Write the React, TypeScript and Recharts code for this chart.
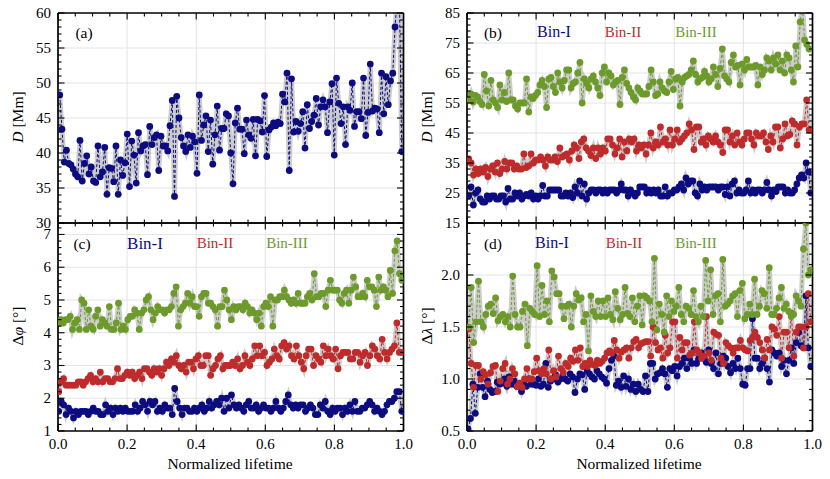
import React from 'react';
import { ComposedChart, Line, XAxis, YAxis, CartesianGrid } from 'recharts';

const NAVY = '#0c0c80';
const RED = '#bf2b2b';
const GREEN = '#6c9a2b';
const BAND = '#9a9a9a';
const FONT = "'Liberation Serif', 'DejaVu Serif', serif";

const range = (a: number, b: number, s: number) => {
  const out: number[] = [];
  for (let v = a; v <= b + 1e-9; v += s) out.push(+v.toFixed(4));
  return out;
};

// shared x axis
const xMajor = [0, 0.2, 0.4, 0.6, 0.8, 1.0];
const xTicks = range(0, 1, 0.05);
const xGrid = [0.2, 0.4, 0.6, 0.8];
const seriesNames = ['Bin-I', 'Bin-II', 'Bin-III'];

// (a) D [Mm]
const aD = [48.3, 43.4, 38.7, 40.4, 38.5, 38.3, 37.7, 37.0, 36.6, 41.8,
  36.0, 38.5, 39.6, 37.0, 38.0, 36.0, 35.8, 41.0, 36.6, 37.3,
  40.8, 34.1, 37.9, 37.8, 35.9, 41.0, 34.1, 39.0, 36.8, 38.6,
  42.7, 35.2, 41.7, 39.7, 35.7, 42.9, 40.3, 41.0, 41.2, 36.9,
  43.8, 41.2, 42.2, 42.6, 37.5, 42.4, 41.0, 41.0, 40.3, 43.9,
  47.5, 33.8, 48.1, 45.0, 42.2, 41.0, 40.2, 42.6, 40.8, 42.4,
  41.6, 37.1, 48.3, 41.8, 44.0, 45.3, 40.2, 44.7, 38.4, 42.6,
  46.7, 40.4, 43.5, 43.5, 45.6, 45.3, 40.0, 35.6, 44.3, 46.4,
  43.4, 43.4, 39.9, 44.7, 42.6, 42.1, 44.8, 39.6, 44.8, 44.6,
  43.0, 48.2, 39.5, 43.3, 43.7, 44.3, 43.9, 44.4, 44.2, 48.4,
  47.3, 51.4, 37.5, 50.6, 43.0, 44.5, 43.1, 44.2, 45.9, 40.7,
  46.9, 43.5, 44.5, 45.4, 47.8, 44.0, 46.6, 47.6, 46.6, 42.9,
  47.3, 49.9, 39.7, 50.7, 47.1, 44.2, 46.6, 41.2, 46.6, 46.1,
  50.0, 43.8, 45.9, 45.9, 44.9, 50.7, 42.5, 45.8, 52.7, 46.0,
  46.4, 46.3, 42.9, 51.4, 45.6, 50.9, 46.9, 50.3, 51.4, 58.0,
  62.0, 61.0, 40.2];
const aYTicks = range(30, 60, 1);
const aYMajor = [30, 35, 40, 45, 50, 55, 60];

// (b) D [Mm] per bin
const bBin1 = [24, 27, 21, 25, 26, 23, 22, 22, 24, 23, 24, 24, 23, 23, 24, 24, 22, 26.5, 23, 23,
  25, 24, 25, 23, 24, 24.5, 24, 25, 23, 24, 23, 24, 27.5, 24, 24, 26, 26, 26, 26, 26,
  24, 24, 25, 24, 25, 23.5, 27, 25, 29, 24, 28, 23, 25, 26, 26, 25, 26, 26, 25, 26,
  25, 26, 26, 26, 25, 26, 28, 26, 26, 24, 26, 25, 24, 25, 27, 27, 27, 25, 26, 25,
  26, 25, 26, 24, 24, 27, 24, 25, 25, 26, 26, 27, 28, 26, 30, 28, 29, 29, 25, 24,
  28, 26, 27, 26, 27, 27, 27, 27, 26, 27, 27, 24.5, 27, 24, 28, 29, 25, 26, 25, 25,
  26, 29, 25, 26, 25, 26, 26, 25, 26, 28.5, 26, 24, 26, 25.5, 27, 27, 27, 25, 26, 25,
  25, 26, 28, 30, 31, 30, 35, 32, 25];
const bBin2 = [36.4, 35, 31, 33, 31.5, 33, 32, 33.5, 30.5, 33, 34, 32, 35, 31.5, 33, 35.5, 33, 35, 35, 33,
  34, 33, 33, 38, 33.5, 34, 38, 35, 36, 36, 37, 36, 34, 37, 36, 36, 37, 35.5, 40, 37,
  37.5, 38, 36, 39, 41, 40, 36.5, 42, 43, 40, 39, 37.5, 40, 36.5, 40, 38, 40, 39, 43, 43,
  41, 38, 40, 43, 37, 42, 39, 43, 42, 43, 39, 41, 40, 41, 38, 41, 45, 40, 42, 41,
  47, 42, 43, 41, 46, 41, 43, 46, 42, 43, 44, 45, 48, 46, 39.5, 47, 47, 42, 43, 41,
  44, 43, 42, 44, 42, 41, 38.5, 46, 46, 42, 44, 41, 45, 42, 41, 43, 45, 45, 43, 41,
  45, 44, 44, 45, 42, 39.5, 44, 42, 47, 47, 40, 43, 48, 44, 44.5, 49, 48, 41, 47, 48,
  48, 56, 46];
const bBin3 = [56, 58, 55.3, 57.5, 57, 55.5, 54.5, 64.5, 59, 54, 62.5, 56, 55, 53.5, 61, 56, 58.5, 55.5, 65, 56,
  56, 54, 53, 55, 55, 55, 63, 52, 57, 56.5, 57.5, 58.5, 61, 62.5, 60.5, 53.5, 63, 63.5, 60.5, 58.5,
  65, 62, 60, 62.5, 66, 66, 60, 61.5, 62, 65, 68.5, 55, 63, 61.5, 60, 63, 64, 62, 60, 57.5,
  65, 67, 62, 65, 64, 61, 62, 62.5, 54.5, 63.5, 66, 61.5, 60, 58.5, 57, 56, 60, 59, 58, 58,
  58, 60.5, 66, 62, 57.5, 58, 62, 60, 59, 58.5, 62, 65.5, 59.5, 63, 63.5, 54, 62, 63.5, 64, 64.5,
  66, 69, 64.5, 62, 63, 63.5, 65.5, 64, 62, 63, 67, 64.5, 60.5, 66.5, 73, 64, 63, 62, 68.5, 71,
  67, 67.5, 61, 68, 66, 69.5, 67, 67, 67, 67.5, 61, 67, 64.5, 66, 70, 69, 66, 70, 68, 71,
  66, 69, 65, 71, 70, 66, 62, 74, 67, 82, 88, 76, 74.5, 73];
const bYTicks = range(15, 85, 2);
const bYMajor = [15, 25, 35, 45, 55, 65, 75, 85];

// (c) delta phi [deg]
const cBin1 = [1.6, 1.9, 1.8, 1.5, 1.7, 1.6, 1.4, 1.6, 1.5, 1.6, 1.6, 1.6, 1.5, 1.6, 1.7, 1.6, 1.6, 1.5, 1.5, 1.8,
  1.6, 1.7, 1.5, 1.7, 1.6, 1.7, 1.6, 1.7, 1.6, 1.6, 1.6, 1.8, 1.6, 1.7, 1.9, 1.8, 1.6, 1.9, 1.8, 1.9,
  1.6, 1.7, 1.6, 1.8, 1.7, 1.7, 1.5, 2.3, 1.9, 1.7, 1.5, 1.7, 1.7, 1.6, 1.6, 1.7, 1.6, 1.7, 1.8, 1.6,
  1.7, 1.9, 1.7, 1.8, 1.9, 1.8, 2.0, 1.6, 2.0, 1.7, 2.1, 1.8, 1.7, 1.8, 1.7, 1.6, 1.8, 1.9, 1.7, 1.7,
  1.8, 1.6, 1.7, 1.8, 1.7, 1.7, 1.6, 1.7, 1.9, 1.7, 1.6, 1.7, 1.9, 2.1, 1.8, 1.7, 1.8, 1.7, 1.8, 1.8,
  1.6, 1.7, 1.8, 1.7, 1.5, 1.5, 1.8, 1.7, 1.9, 1.6, 1.5, 1.7, 1.6, 1.7, 1.7, 1.5, 1.7, 1.6, 1.8, 1.6,
  1.9, 1.6, 1.6, 1.7, 1.7, 1.8, 1.9, 1.8, 1.6, 1.7, 1.6, 1.5, 1.6, 1.8, 1.9, 1.9, 2.0, 2.2, 2.2, 1.6];
const cBin2 = [2.2, 2.5, 2.6, 2.4, 2.4, 2.4, 2.4, 2.4, 2.5, 2.5, 2.4, 2.5, 2.6, 2.7, 2.5, 2.6, 2.5, 2.8, 2.5, 2.6,
  2.6, 2.5, 2.5, 2.6, 2.9, 2.6, 2.6, 2.7, 2.8, 2.7, 2.8, 2.6, 2.7, 2.8, 2.6, 2.9, 2.9, 2.8, 2.7, 2.9,
  2.8, 2.9, 2.7, 2.9, 3.1, 3.0, 3.2, 3.1, 3.3, 3.0, 2.9, 3.0, 2.8, 3.1, 3.1, 2.9, 3.2, 3.3, 3.0, 3.0,
  3.3, 3.3, 2.7, 2.9, 3.0, 3.2, 3.3, 2.9, 3.0, 3.0, 3.0, 3.1, 3.0, 3.2, 2.9, 3.0, 3.3, 3.1, 3.0, 3.2,
  3.6, 3.3, 3.6, 3.3, 3.4, 3.0, 3.1, 3.2, 3.5, 3.3, 3.2, 3.6, 3.7, 3.5, 3.6, 3.3, 3.2, 3.6, 3.3, 3.1,
  2.9, 3.3, 3.5, 3.5, 3.0, 3.3, 3.2, 3.1, 3.6, 3.3, 3.5, 3.3, 3.2, 3.5, 2.9, 3.3, 3.4, 3.4, 3.4, 3.2,
  3.2, 3.4, 3.4, 3.1, 3.3, 3.4, 3.0, 3.3, 3.6, 3.5, 3.3, 3.2, 3.8, 3.4, 3.2, 3.4, 3.5, 3.6, 4.3, 3.4, 3.4];
const cBin3 = [4.3, 4.4, 4.3, 4.4, 4.4, 4.5, 4.1, 4.3, 4.4, 4.1, 5.0, 4.9, 4.1, 4.7, 4.2, 4.1, 4.5, 4.7, 4.2, 4.4,
  4.3, 4.2, 4.8, 4.1, 4.1, 4.3, 4.9, 4.1, 4.2, 4.1, 4.4, 4.5, 4.5, 4.7, 4.6, 4.1, 4.6, 4.7, 5.0, 5.1,
  4.7, 4.4, 4.6, 4.8, 4.7, 4.7, 4.6, 4.7, 4.7, 4.8, 5.2, 5.4, 4.2, 4.7, 4.8, 4.9, 5.2, 4.9, 5.1, 4.8,
  4.8, 4.5, 5.1, 5.2, 5.2, 4.9, 4.9, 4.8, 4.7, 4.2, 4.8, 4.8, 5.3, 5.0, 4.7, 4.4, 4.8, 4.7, 4.8, 4.8,
  4.7, 4.9, 4.8, 4.6, 4.7, 4.6, 4.4, 4.6, 4.2, 4.8, 4.9, 4.8, 5.1, 4.2, 5.0, 5.0, 5.1, 5.1, 5.3, 5.1,
  5.0, 4.9, 5.0, 4.9, 5.2, 4.9, 4.9, 4.9, 5.1, 5.2, 5.0, 5.8, 5.1, 5.1, 5.2, 5.2, 4.8, 5.3, 5.6, 5.3,
  5.3, 5.3, 5.0, 4.9, 5.2, 5.3, 4.9, 5.3, 5.7, 5.4, 5.1, 5.1, 5.2, 5.1, 5.6, 5.4, 5.4, 5.3, 4.8, 5.7,
  5.3, 5.4, 5.3, 5.1, 5.9, 5.2, 6.5, 6.8, 5.8, 5.6];
const cYTicks = range(1, 7.2, 0.2);
const cYMajor = [1, 2, 3, 4, 5, 6, 7];

// (d) delta lambda [deg]
const dBin1 = [0.52, 0.62, 0.95, 0.67, 0.92, 1.05, 0.92, 0.83, 0.98, 0.9, 0.87, 0.88, 0.97, 0.95, 0.96, 1.0, 0.93, 1.02, 0.95, 0.98,
  0.93, 0.95, 0.88, 0.95, 0.93, 1.0, 0.95, 0.95, 0.94, 1.0, 0.93, 0.95, 1.15, 0.92, 0.98, 1.0, 1.04, 0.97, 1.0, 1.04,
  1.0, 0.98, 1.05, 1.02, 0.87, 1.0, 1.05, 1.04, 0.9, 1.08, 1.05, 1.02, 1.0, 1.08, 1.05, 1.02, 1.0, 0.96, 1.1, 1.18,
  1.22, 0.94, 0.98, 0.92, 1.03, 0.93, 1.0, 0.9, 0.95, 0.88, 0.95, 0.9, 0.88, 1.03, 0.88, 1.15, 1.15, 1.0, 1.05, 1.06,
  1.1, 1.05, 0.92, 1.1, 1.08, 1.12, 1.03, 1.12, 1.15, 1.2, 1.1, 1.2, 1.15, 1.28, 1.15, 1.2, 1.25, 1.2, 1.16, 1.28,
  1.15, 1.1, 1.25, 1.05, 1.15, 1.22, 1.2, 1.12, 1.06, 1.15, 1.1, 1.2, 1.1, 0.95, 0.94, 1.1, 1.1, 1.58, 1.2, 1.2,
  1.1, 1.15, 1.2, 1.1, 0.97, 1.28, 1.25, 1.22, 1.25, 1.12, 1.18, 1.05, 1.18, 1.3, 1.15, 1.35, 1.45, 1.32, 1.3, 1.8,
  1.3, 1.12];
const dBin2 = [1.48, 1.15, 0.92, 1.13, 1.13, 1.0, 1.07, 1.04, 0.95, 1.06, 1.12, 1.13, 0.88, 0.98, 1.1, 1.15, 0.95, 1.0, 1.1, 1.05,
  0.93, 0.96, 0.92, 1.0, 1.1, 1.0, 1.0, 1.07, 1.2, 1.08, 1.05, 1.1, 1.05, 1.28, 1.0, 1.08, 1.02, 1.22, 1.1, 1.06,
  1.15, 1.12, 1.2, 1.17, 1.28, 1.18, 1.3, 1.12, 1.15, 1.12, 1.18, 1.14, 1.13, 1.18, 1.15, 1.17, 1.2, 1.25, 1.27, 1.25,
  1.37, 1.28, 1.2, 1.26, 1.28, 1.3, 1.2, 1.3, 1.36, 1.38, 1.3, 1.34, 1.35, 1.36, 1.36, 1.22, 1.5, 1.35, 1.28, 1.3,
  1.2, 1.42, 1.25, 1.3, 1.55, 1.55, 1.2, 1.4, 1.28, 1.35, 1.35, 1.23, 1.25, 1.55, 1.28, 1.25, 1.2, 1.22, 1.6, 1.25,
  1.18, 1.45, 1.43, 1.42, 1.2, 1.15, 1.35, 1.32, 1.3, 1.25, 1.3, 1.3, 1.37, 1.3, 1.28, 1.27, 1.37, 1.4, 1.45, 1.4,
  1.35, 1.28, 1.2, 1.38, 1.28, 1.5, 1.48, 1.42, 1.6, 1.2, 1.45, 1.45, 1.3, 1.63, 1.22, 1.45, 1.5, 1.5, 1.3, 1.5,
  1.82, 1.55];
const dBin3 = [1.5, 1.88, 1.35, 1.55, 1.94, 1.55, 1.5, 1.62, 1.7, 1.72, 1.63, 1.78, 1.56, 1.6, 1.62, 1.55, 1.6, 1.5, 1.99, 1.62,
  1.5, 1.5, 1.65, 1.72, 1.32, 1.68, 1.65, 1.62, 2.09, 1.6, 1.9, 1.62, 1.75, 1.55, 2.04, 1.98, 1.82, 1.82, 1.7, 1.58,
  1.7, 1.72, 1.5, 1.7, 1.82, 1.76, 1.78, 1.55, 1.62, 1.27, 1.8, 1.65, 1.6, 1.75, 1.6, 1.75, 1.6, 1.78, 1.62, 1.57,
  1.84, 1.68, 1.57, 1.62, 1.88, 1.63, 1.6, 1.78, 1.55, 1.7, 1.8, 1.52, 1.8, 1.78, 1.75, 1.55, 2.16, 1.47, 1.72, 1.62,
  1.45, 1.8, 1.6, 1.75, 1.65, 1.7, 1.88, 1.62, 1.55, 1.7, 1.68, 1.62, 1.85, 1.6, 1.55, 1.7, 1.6, 2.14, 1.75, 2.05,
  1.62, 1.8, 1.82, 1.55, 2.15, 1.7, 1.72, 1.75, 1.8, 1.82, 1.6, 1.85, 1.92, 1.58, 1.62, 1.72, 1.62, 1.96, 1.62, 1.7,
  1.85, 1.82, 1.68, 2.07, 1.62, 1.62, 1.68, 1.78, 1.88, 1.68, 1.72, 1.65, 1.6, 1.62, 1.8, 1.75, 1.7, 2.25, 2.5, 2.0,
  2.05];
const dYTicks = range(0.5, 2.5, 0.1);
const dYMajor = [0.5, 1.0, 1.5, 2.0, 2.5];
const dYLabels = [0.5, 1.0, 1.5, 2.0];

const toPoints = (values: number[], start: number, end: number) =>
  values.map((v, i) => ({ x: start + ((end - start) * i) / (values.length - 1), v }));

interface Series {
  data: { x: number; v: number }[];
  color: string;
}

interface PanelProps {
  left: number;
  top: number;
  width: number;
  height: number;
  yDomain: [number, number];
  yTicks: number[];
  yMajor: number[];
  yLabels: number[];
  yFmt: (v: number) => string;
  xLabels: boolean;
  series: Series[];
}

const PAD_L = 60;
const PAD_R = 12;
const PAD_T = 12;
const PAD_B = 40;
const TICK_FONT = 15;

const near = (list: number[], v: number) => list.some((m) => Math.abs(m - v) < 1e-6);

const Panel: React.FC<PanelProps> = (p) => {
  const tick = (side: 'left' | 'right' | 'top' | 'bottom') => (props: any) => {
    const { x, y, payload } = props;
    const v = payload.value as number;
    const vertical = side === 'left' || side === 'right';
    const major = vertical ? near(p.yMajor, v) : near(xMajor, v);
    const len = major ? 6.5 : 3.5;
    let line = null;
    if (side === 'bottom') line = <line x1={x} x2={x} y1={y} y2={y - len} />;
    if (side === 'top') line = <line x1={x} x2={x} y1={y} y2={y + len} />;
    if (side === 'left') line = <line x1={x} x2={x + len} y1={y} y2={y} />;
    if (side === 'right') line = <line x1={x} x2={x - len} y1={y} y2={y} />;
    let label = null;
    if (side === 'bottom' && p.xLabels && major) {
      label = (
        <text x={x} y={y + 18} textAnchor="middle" fontSize={TICK_FONT} fontFamily={FONT} fill="#000" stroke="none">
          {v.toFixed(1)}
        </text>
      );
    }
    if (side === 'left' && near(p.yLabels, v)) {
      label = (
        <text x={x - 7} y={y + 5} textAnchor="end" fontSize={TICK_FONT} fontFamily={FONT} fill="#000" stroke="none">
          {p.yFmt(v)}
        </text>
      );
    }
    return (
      <g stroke="#000" strokeWidth={1.1}>
        {line}
        {label}
      </g>
    );
  };

  const frame = { stroke: '#000', strokeWidth: 1.7 };
  const yGrid = p.yMajor.filter((v) => v > p.yDomain[0] && v < p.yDomain[1]);

  return (
    <div style={{ position: 'absolute', left: p.left - PAD_L, top: p.top - PAD_T }}>
      <ComposedChart
        width={p.width + PAD_L + PAD_R}
        height={p.height + PAD_T + PAD_B}
        margin={{ top: 0, right: 0, bottom: 0, left: 0 }}
      >
        <CartesianGrid
          xAxisId="b"
          yAxisId="l"
          stroke="#e4e4e4"
          strokeWidth={1}
          horizontalValues={yGrid}
          verticalValues={xGrid}
        />
        <XAxis xAxisId="b" dataKey="x" type="number" domain={[0, 1]} ticks={xTicks} interval={0}
          orientation="bottom" height={PAD_B} tickSize={0} tickMargin={0} tickLine={false}
          axisLine={frame} tick={tick('bottom')} allowDataOverflow />
        <XAxis xAxisId="t" dataKey="x" type="number" domain={[0, 1]} ticks={xTicks} interval={0}
          orientation="top" height={PAD_T} tickSize={0} tickMargin={0} tickLine={false}
          axisLine={frame} tick={tick('top')} allowDataOverflow />
        <YAxis yAxisId="l" type="number" domain={p.yDomain} ticks={p.yTicks} interval={0}
          orientation="left" width={PAD_L} tickSize={0} tickMargin={0} tickLine={false}
          axisLine={frame} tick={tick('left')} allowDataOverflow />
        <YAxis yAxisId="r" type="number" domain={p.yDomain} ticks={p.yTicks} interval={0}
          orientation="right" width={PAD_R} tickSize={0} tickMargin={0} tickLine={false}
          axisLine={frame} tick={tick('right')} allowDataOverflow />
        {p.series.map((s, i) => (
          <Line
            key={`band-${i}`}
            xAxisId="b"
            yAxisId="l"
            data={s.data}
            dataKey="v"
            type="linear"
            stroke={BAND}
            strokeWidth={5}
            strokeOpacity={0.5}
            dot={false}
            isAnimationActive={false}
          />
        ))}
        {p.series.map((s, i) => (
          <Line
            key={`s-${i}`}
            xAxisId="b"
            yAxisId="l"
            data={s.data}
            dataKey="v"
            type="linear"
            stroke={s.color}
            strokeWidth={1}
            strokeDasharray="3 2"
            dot={{ r: 3.4, fill: s.color, stroke: 'none', strokeDasharray: '' }}
            isAnimationActive={false}
          />
        ))}
      </ComposedChart>
    </div>
  );
};

const txt = (x: number, y: number, size: number, color: string): React.CSSProperties => ({
  position: 'absolute',
  left: x,
  top: y,
  transform: 'translate(-50%, -50%)',
  fontFamily: FONT,
  fontSize: size,
  color,
  whiteSpace: 'nowrap',
  lineHeight: 1,
});

const ylab = (x: number, y: number): React.CSSProperties => ({
  ...txt(x, y, 15.5, '#000'),
  transform: 'translate(-50%, -50%) rotate(-90deg)',
});

const LEFT_X = 57.5;
const RIGHT_X = 466.7;
const PW = 345.5;
const TOP_Y = 12.7;
const MID_Y = 222.7;
const PH_TOP = 210;
const PH_BOT = 208;

const fmtInt = (v: number) => String(v);
const fmt1 = (v: number) => v.toFixed(1);

export default function App() {
  const colors = [NAVY, RED, GREEN];
  return (
    <div style={{ position: 'absolute', left: 0, top: 0, width: 830, height: 479, background: '#fff', overflow: 'hidden' }}>
      <Panel left={LEFT_X} top={TOP_Y} width={PW} height={PH_TOP} yDomain={[30, 60]}
        yTicks={aYTicks} yMajor={aYMajor} yLabels={aYMajor} yFmt={fmtInt} xLabels={false}
        series={[{ data: toPoints(aD, 0.005, 0.995), color: NAVY }]} />
      <Panel left={RIGHT_X} top={TOP_Y} width={PW} height={PH_TOP} yDomain={[15, 85]}
        yTicks={bYTicks} yMajor={bYMajor} yLabels={bYMajor} yFmt={fmtInt} xLabels={false}
        series={[
          { data: toPoints(bBin1, 0.005, 0.995), color: NAVY },
          { data: toPoints(bBin2, 0.005, 0.99), color: RED },
          { data: toPoints(bBin3, 0.005, 0.99), color: GREEN },
        ]} />
      <Panel left={LEFT_X} top={MID_Y} width={PW} height={PH_BOT} yDomain={[1, 7.35]}
        yTicks={cYTicks} yMajor={cYMajor} yLabels={cYMajor} yFmt={fmtInt} xLabels
        series={[
          { data: toPoints(cBin1, 0.002, 0.995), color: NAVY },
          { data: toPoints(cBin2, 0.002, 0.995), color: RED },
          { data: toPoints(cBin3, 0.002, 0.995), color: GREEN },
        ]} />
      <Panel left={RIGHT_X} top={MID_Y} width={PW} height={PH_BOT} yDomain={[0.5, 2.5]}
        yTicks={dYTicks} yMajor={dYMajor} yLabels={dYLabels} yFmt={fmt1} xLabels
        series={[
          { data: toPoints(dBin1, 0.003, 0.995), color: NAVY },
          { data: toPoints(dBin2, 0.005, 0.995), color: RED },
          { data: toPoints(dBin3, 0.005, 0.995), color: GREEN },
        ]} />

      <div style={ylab(18, 117)}><i>D</i> [Mm]</div>
      <div style={ylab(427, 117)}><i>D</i> [Mm]</div>
      <div style={ylab(18, 326)}>Δ<i>φ</i> [°]</div>
      <div style={ylab(427, 326)}>Δ<i>λ</i> [°]</div>

      <div style={txt(84, 33, 15.5, '#000')}>(a)</div>
      <div style={txt(493, 33, 15.5, '#000')}>(b)</div>
      <div style={txt(82, 244, 15.5, '#000')}>(c)</div>
      <div style={txt(493, 244, 15.5, '#000')}>(d)</div>

      {[554, 623, 696].map((x, i) => (
        <div key={`lb-${i}`} style={txt(x, 32, i === 0 ? 16 : 15, colors[i])}>{seriesNames[i]}</div>
      ))}
      {[145, 215, 287].map((x, i) => (
        <div key={`lc-${i}`} style={txt(x, 243, i === 0 ? 17 : 15, colors[i])}>{seriesNames[i]}</div>
      ))}
      {[552, 624, 696].map((x, i) => (
        <div key={`ld-${i}`} style={txt(x, 243, i === 0 ? 16 : 15, colors[i])}>{seriesNames[i]}</div>
      ))}

      <div style={txt(230, 464, 15.5, '#000')}>Normalized lifetime</div>
      <div style={txt(639, 464, 15.5, '#000')}>Normalized lifetime</div>
    </div>
  );
}
